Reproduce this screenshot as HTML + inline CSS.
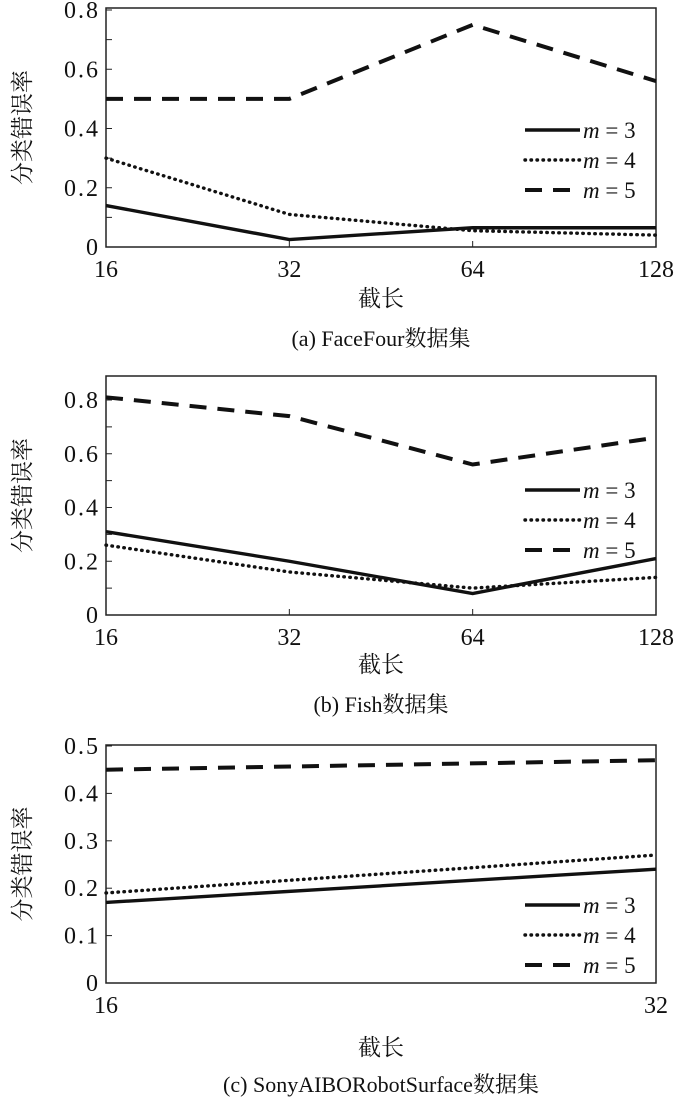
<!DOCTYPE html>
<html><head><meta charset="utf-8"><style>
html,body{margin:0;padding:0;background:#fff;}
svg{display:block}
text{font-family:"Liberation Serif","Noto Serif CJK SC",serif;fill:#111}
</style></head><body>
<svg id="c" width="700" height="1098"></svg>
<script>
const xCatsA=["16","32","64","128"];
const a_m3=[0.14,0.025,0.065,0.065];
const a_m4=[0.30,0.11,0.055,0.04];
const a_m5=[0.50,0.50,0.75,0.56];
const yTicksA=[0,0.2,0.4,0.6,0.8];
const b_m3=[0.31,0.20,0.08,0.21];
const b_m4=[0.26,0.16,0.10,0.14];
const b_m5=[0.81,0.74,0.56,0.66];
const yTicksB=[0,0.2,0.4,0.6,0.8];
const xCatsC=["16","32"];
const c_m3=[0.17,0.24];
const c_m4=[0.19,0.27];
const c_m5=[0.45,0.47];
const yTicksC=[0,0.1,0.2,0.3,0.4,0.5];
const NS="http://www.w3.org/2000/svg";
const svg=document.getElementById('c');
function el(t,a,p){const e=document.createElementNS(NS,t);for(const k in a)e.setAttribute(k,a[k]);(p||svg).appendChild(e);return e;}
const styles={m3:{w:3.4,d:""},m4:{w:3.4,d:"0.5 5.5",cap:"round"},m5:{w:4,d:"17 11"}};
function panel(o){
  const g=el('g',{});
  
  
  const L=106,R=656,top=o.top,y0=o.y0,ymax=o.ymax,yTopVal=o.yTopVal;
  const ys=v=>y0-(v/ymax)*(y0-o.yMaxPix);
  const n=o.cats.length;
  const xs=i=>L+i*(R-L)/(n-1);
  const frame=el('rect',{x:L,y:top,width:R-L,height:y0-top,fill:'none',stroke:'#222','stroke-width':1.5},g);
  
  
  for(let v=0;v<=yTopVal+1e-9;v+=o.minor){const y=ys(v);el('line',{x1:L,x2:L+6,y1:y,y2:y,stroke:'#222','stroke-width':1},g);}
  o.yticks.forEach(v=>{const t=el('text',{x:L-8,y:ys(v)+8,'text-anchor':'end','font-size':24,textLength:String(v).length>1?34:13},g);t.textContent=String(v);
    });
  o.cats.forEach((c,i)=>{const x=xs(i);el('line',{x1:x,x2:x,y1:y0,y2:y0-6,stroke:'#222'},g);
    const t=el('text',{x:x,y:y0+30,'text-anchor':'middle','font-size':24},g);t.textContent=c;
    });
  const ser=[["m3",o.s3],["m4",o.s4],["m5",o.s5]];
  ser.forEach(([k,arr])=>{const s=styles[k];
    const p=el('polyline',{points:arr.map((v,i)=>xs(i)+','+ys(v)).join(' '),fill:'none',stroke:'#111','stroke-width':s.w,'stroke-dasharray':s.d,'stroke-linecap':s.cap||'butt'},g);
    });
  ser.forEach(([k],j)=>{const s=styles[k];const y=o.legY+j*30;
    const ln=el('line',{x1:525,x2:580,y1:y,y2:y,stroke:'#111','stroke-width':s.w,'stroke-dasharray':s.d,'stroke-linecap':s.cap||'butt'},g);
    
    const t=el('text',{x:583,y:y+8,'font-size':23},g);
    t.innerHTML='<tspan font-style="italic">m</tspan> = '+k.slice(1);
    });
  const yl=el('text',{x:0,y:0,'font-size':23,'text-anchor':'middle',transform:`translate(30,${(top+y0)/2}) rotate(-90)`},g);
  yl.textContent='分类错误率';
  const xl=el('text',{x:381,y:o.xlY,'font-size':23,'text-anchor':'middle'},g);
  xl.textContent='截长';
  const cp=el('text',{x:381,y:o.capY,'font-size':22,'text-anchor':'middle'},g);
  cp.textContent=o.cap;
}
panel({name:'panel-a-facefour',top:8,y0:247,yMaxPix:10,ymax:0.8,yTopVal:0.8,minor:0.1,yticks:yTicksA,cats:xCatsA,s3:a_m3,s4:a_m4,s5:a_m5,legY:130,xlY:306,capY:346,cap:'(a) FaceFour数据集'});
panel({name:'panel-b-fish',top:376,y0:615,yMaxPix:400,ymax:0.8,yTopVal:0.8,minor:0.1,yticks:yTicksB,cats:xCatsA,s3:b_m3,s4:b_m4,s5:b_m5,legY:490,xlY:672,capY:712,cap:'(b) Fish数据集'});
panel({name:'panel-c-sonyaibo',top:745,y0:983,yMaxPix:746,ymax:0.5,yTopVal:0.5,minor:0.1,yticks:yTicksC,cats:xCatsC,s3:c_m3,s4:c_m4,s5:c_m5,legY:905,xlY:1055,capY:1092,cap:'(c) SonyAIBORobotSurface数据集'});
</script>
</body></html>
